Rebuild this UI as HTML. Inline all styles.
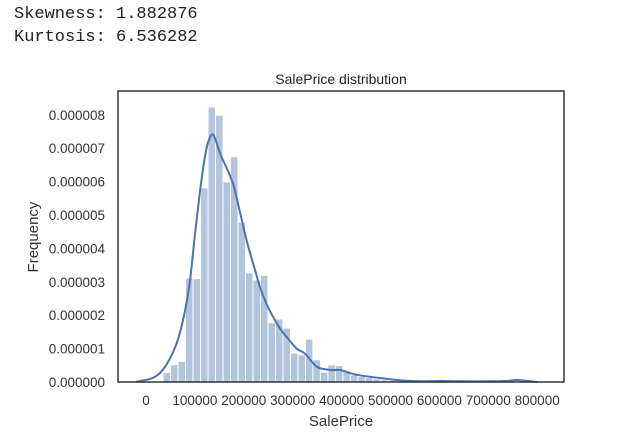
<!DOCTYPE html>
<html><head><meta charset="utf-8"><style>
body{margin:0;background:#fff;width:617px;height:446px;overflow:hidden}
.mono{position:absolute;left:14px;font-family:"Liberation Mono",monospace;font-size:17px;color:#222}
</style></head><body>
<div class="mono" style="top:5px">Skewness: 1.882876</div>
<div class="mono" style="top:28px">Kurtosis: 6.536282</div>
<svg id="chart" width="617" height="446" style="position:absolute;left:0;top:0" font-family="Liberation Sans, sans-serif"></svg>
<script>
const binStart = 34900;
const binWidth = 15321;
const binValues = [0.27,0.5,0.6,3.1,3.08,5.8,8.22,7.97,5.98,6.73,4.77,3.25,3.04,3.18,1.76,1.87,1.6,0.85,0.8,1.27,0.65,0.28,0.5,0.48,0.3,0.2,0.15,0.12,0.08,0.05,0.03,0.02,0.03,0.05,0.02,0.02,0.03,0.01,0.02,0,0.01,0,0.01,0,0.04,0.02,0.01];
const kdeX = [-20000,10000,28600,45000,62800,78000,90000,100000,110400,120000,127400,137700,151300,165000,178600,192000,205900,220000,233100,246000,260300,274000,287500,308000,325000,349000,376300,396700,417000,437000,478500,519000,560000,601000,650000,700000,735000,758000,780000,800000];
const kdeY = [0.01,0.1,0.27,0.6,1.16,2.0,3.04,4.4,5.71,6.7,7.2,7.4,6.85,6.4,5.91,5.1,4.23,3.5,2.84,2.35,1.94,1.6,1.35,1.0,0.85,0.46,0.36,0.36,0.27,0.2,0.12,0.05,0.02,0.03,0.02,0.02,0.03,0.06,0.03,0.0];
const xTicks = [0,100000,200000,300000,400000,500000,600000,700000,800000];
const yTicks = [0,1,2,3,4,5,6,7,8];

const svg = document.getElementById('chart');
const NS = 'http://www.w3.org/2000/svg';
const L=118,R=564,T=91,B=382;
const xs = v => 146 + v/100000*48.9;
const ys = v => B - v*33.4;
function mk(tag, attrs){const e=document.createElementNS(NS,tag);for(const k in attrs)e.setAttribute(k,attrs[k]);svg.appendChild(e);return e;}

binValues.forEach((v,i)=>{
  const x0=xs(binStart+i*binWidth), x1=xs(binStart+(i+1)*binWidth);
  const r=mk('rect',{x:x0+0.5,y:ys(v),width:Math.max(0,x1-x0-1),height:B-ys(v),fill:'#b3c4df'});
  
  
});
const pts=kdeX.map((x,i)=>[xs(x),ys(kdeY[i])]);
let d='M'+pts[0][0].toFixed(1)+','+pts[0][1].toFixed(1);
for(let i=0;i<pts.length-1;i++){
  const p0=pts[Math.max(0,i-1)],p1=pts[i],p2=pts[i+1],p3=pts[Math.min(pts.length-1,i+2)];
  const c1=[p1[0]+(p2[0]-p0[0])/6,p1[1]+(p2[1]-p0[1])/6];
  const c2=[p2[0]-(p3[0]-p1[0])/6,p2[1]-(p3[1]-p1[1])/6];
  d+='C'+c1.map(n=>n.toFixed(1)).join(',')+' '+c2.map(n=>n.toFixed(1)).join(',')+' '+p2.map(n=>n.toFixed(1)).join(',');
}
const p=mk('path',{d:d,fill:'none',stroke:'#4c72b0','stroke-width':2,'stroke-linejoin':'round'});



const fr=mk('rect',{x:L,y:T,width:R-L,height:B-T,fill:'none',stroke:'#333','stroke-width':1.5});



xTicks.forEach(v=>{
  const t=mk('text',{x:xs(v),y:405,'text-anchor':'middle','font-size':13.5,fill:'#333'});
  t.textContent=v;
  
  
});
yTicks.forEach(v=>{
  const t=mk('text',{x:105,y:ys(v)+5,'text-anchor':'end','font-size':13.5,fill:'#333'});
  t.textContent=(v/1e6).toFixed(6);
  
  
});
const tt=mk('text',{x:341,y:84,'text-anchor':'middle','font-size':14,fill:'#222'});
tt.textContent='SalePrice distribution';


const xl=mk('text',{x:341,y:426,'text-anchor':'middle','font-size':15,fill:'#333'});
xl.textContent='SalePrice';


const yl=mk('text',{x:0,y:0,'text-anchor':'middle','font-size':15,fill:'#333',transform:'translate(38,237) rotate(-90)'});
yl.textContent='Frequency';


</script>
</body></html>
